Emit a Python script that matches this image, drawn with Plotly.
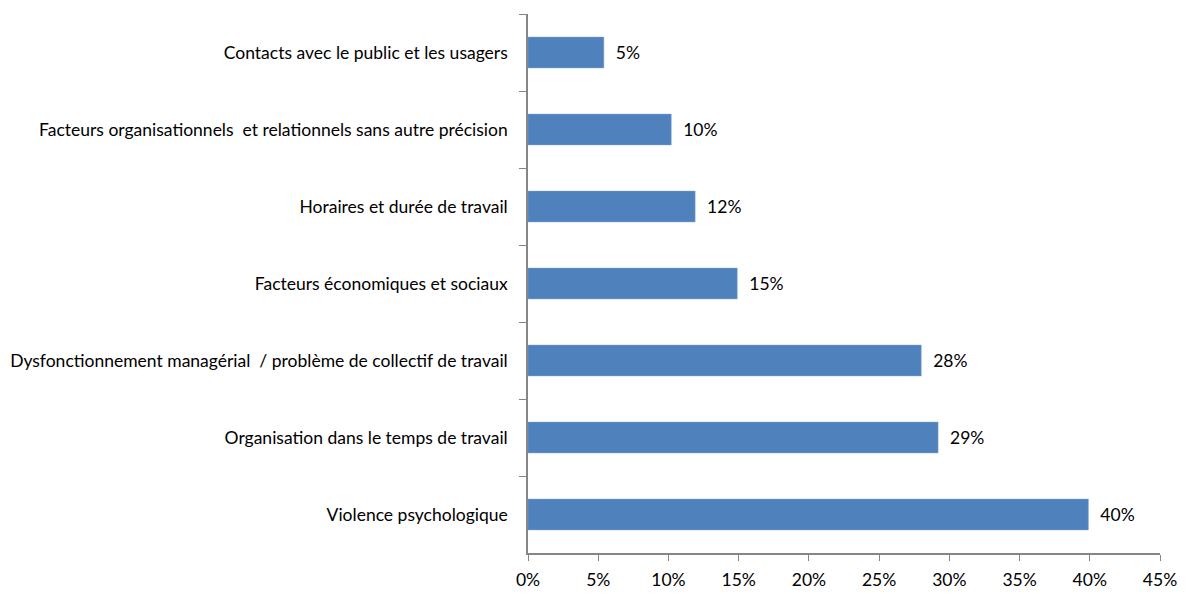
import plotly.graph_objects as go

categories = [
    "Contacts avec le public et les usagers",
    "Facteurs organisationnels  et relationnels sans autre précision",
    "Horaires et durée de travail",
    "Facteurs économiques et sociaux",
    "Dysfonctionnement managérial  / problème de collectif de travail",
    "Organisation dans le temps de travail",
    "Violence psychologique",
]
values = [5.4, 10.2, 11.9, 14.9, 28.0, 29.2, 39.9]
labels = ["5%", "10%", "12%", "15%", "28%", "29%", "40%"]
x_ticks = [0, 5, 10, 15, 20, 25, 30, 35, 40, 45]
x_tick_labels = [f"{t}%" for t in x_ticks]

font = dict(family="Lato, Carlito, Calibri, sans-serif", size=17.5, color="#000000")

fig = go.Figure(
    go.Bar(
        x=values,
        y=categories,
        orientation="h",
        width=0.4,
        marker=dict(color="#4F81BD", line=dict(color="#7FA3D0", width=0.5)),
        text=["  " + l for l in labels],
        textposition="outside",
        textfont=font,
        cliponaxis=False,
    )
)

fig.update_layout(
    width=1178,
    height=586,
    margin=dict(l=520, r=26, t=6, b=41, autoexpand=False),
    paper_bgcolor="white",
    plot_bgcolor="white",
    font=font,
    showlegend=False,
    bargap=0.6,
)
fig.update_xaxes(
    range=[0, 45],
    tickvals=x_ticks,
    ticktext=x_tick_labels,
    showgrid=False,
    zeroline=False,
    showline=True,
    linecolor="#868686",
    linewidth=1.5,
    ticks="outside",
    ticklen=6,
    tickcolor="#868686",
    tickfont=font,
    ticklabelstandoff=4,
    automargin=False,
)
fig.update_yaxes(
    autorange="reversed",
    showgrid=False,
    showline=True,
    linecolor="#868686",
    linewidth=1.5,
    ticks="outside",
    tickson="boundaries",
    ticklen=7,
    tickcolor="#868686",
    tickfont=font,
    ticklabelstandoff=15,
    automargin=False,
)

fig.write_html("out.html")
